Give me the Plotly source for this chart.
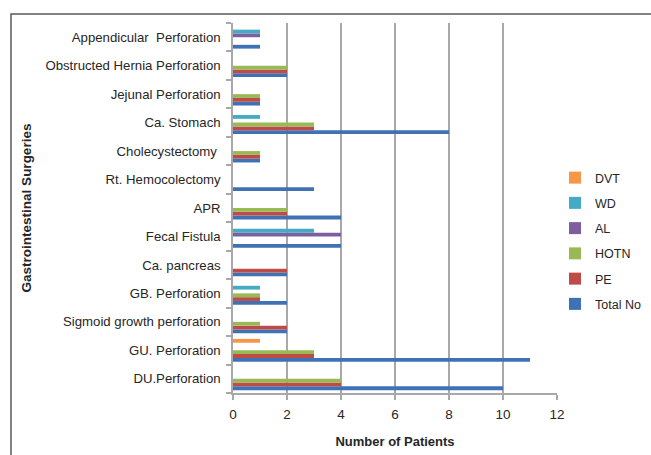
import plotly.graph_objects as go

categories = ["DU.Perforation", "GU. Perforation", "Sigmoid growth perforation",
              "GB. Perforation", "Ca. pancreas", "Fecal Fistula", "APR",
              "Rt. Hemocolectomy", "Cholecystectomy ", "Ca. Stomach",
              "Jejunal Perforation", "Obstructed Hernia Perforation",
              "Appendicular  Perforation"]

total_no = [10, 11, 2, 2, 2, 4, 4, 3, 1, 8, 1, 2, 1]
pe       = [4, 3, 2, 1, 2, 0, 2, 0, 1, 3, 1, 2, 0]
hotn     = [4, 3, 1, 1, 0, 0, 2, 0, 1, 3, 1, 2, 0]
al       = [0, 0, 0, 0, 0, 4, 0, 0, 0, 0, 0, 0, 1]
wd       = [0, 0, 0, 1, 0, 3, 0, 0, 0, 1, 0, 0, 1]
dvt      = [0, 1, 0, 0, 0, 0, 0, 0, 0, 0, 0, 0, 0]

series_names = ["Total No", "PE", "HOTN", "AL", "WD", "DVT"]
series_values = [total_no, pe, hotn, al, wd, dvt]
colors = ["#3F72B5", "#BE4B48", "#98B954", "#7D5FA0", "#46AAC5", "#F79646"]

x_ticks = [0, 2, 4, 6, 8, 10, 12]

fig = go.Figure()
n = len(series_names)
for i, (name, vals, col) in enumerate(zip(series_names, series_values, colors)):
    fig.add_trace(go.Bar(
        y=categories, x=vals, name=name, orientation="h",
        marker=dict(color=col, line=dict(width=0)),
        legendgroup=name, legendrank=n - i,
    ))

W, H = 651, 455
L, R, T, B = 233, 94, 23, 62
pw, ph = W - L - R, H - T - B

fig.update_layout(
    width=W, height=H,
    margin=dict(l=L, r=R, t=T, b=B, pad=0, autoexpand=False),
    barmode="group", bargap=0.2, bargroupgap=0,
    paper_bgcolor="white", plot_bgcolor="white",
    font=dict(family="Liberation Sans, Arial, sans-serif", size=12, color="#262626"),
    legend=dict(
        xref="container", yref="container",
        x=555 / W, xanchor="left",
        y=1 - 163 / H, yanchor="top",
        traceorder="grouped", tracegroupgap=6,
        font=dict(size=12.5, color="#262626"),
        bgcolor="rgba(0,0,0,0)", itemwidth=30,
    ),
    xaxis=dict(
        range=[0, 12], tickvals=x_ticks, ticktext=[str(v) for v in x_ticks],
        showgrid=True, gridcolor="#A8A8A8", gridwidth=1.5,
        showline=True, linecolor="#A8A8A8", linewidth=1.5,
        ticks="outside", ticklen=5, tickcolor="#A8A8A8", tickwidth=1.5,
        zeroline=False, tickfont=dict(size=13.5), ticklabelstandoff=3,
        title=dict(text="<b>Number of Patients</b>", font=dict(size=13), standoff=16),
    ),
    yaxis=dict(
        type="category", categoryorder="array", categoryarray=categories,
        showgrid=False, showline=True, linecolor="#A8A8A8", linewidth=1.5,
        ticks="outside", ticklen=5, tickcolor="#A8A8A8", tickwidth=1.5,
        tickson="boundaries", ticklabelstandoff=8, tickfont=dict(size=13.2),
        title=dict(text="<b>Gastrointestinal Surgeries</b>", font=dict(size=13.5), standoff=11),
    ),
    shapes=[dict(
        type="rect", xref="paper", yref="paper",
        x0=(11 - L) / pw, x1=(W + 10 - L) / pw,
        y0=(H - B - (H + 10)) / ph, y1=(H - B - 14) / ph,
        line=dict(color="#595959", width=1.5), fillcolor="rgba(0,0,0,0)",
        layer="below",
    )],
)

fig.write_html("out.html")
